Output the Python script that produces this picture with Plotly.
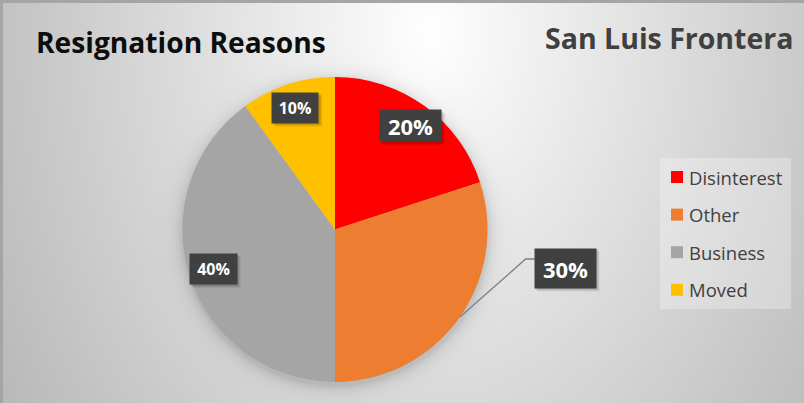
import base64
import math
import struct
import zlib

import numpy as np
import plotly.graph_objects as go

# ---------------- data ----------------
categories = ["Disinterest", "Other", "Business", "Moved"]
values = [20, 30, 40, 10]
colors = ["#FF0000", "#ED7D31", "#A5A5A5", "#FFC000"]
title_left = "Resignation Reasons"
title_right = "San Luis Frontera"

# ---------------- geometry (pixels) ----------------
W, H = 804, 403
CX, CY, R = 335.0, 229.5, 152.5
FONT = "Open Sans"


def px(x):
    return x / W


def py(y):
    return 1 - y / H


# ---------------- background image (gradient + pie shadow) ----------------
yy, xx = np.mgrid[0:H, 0:W].astype(float)
d = np.sqrt(((xx - 430) / 430) ** 2 + ((yy - 30) / 600) ** 2)
g = 255 - 60 * d
s = np.sqrt((xx - CX) ** 2 + (yy - (CY + 3)) ** 2) - R
g -= 32 * np.exp(-np.clip(s, 0, None) / 7)
g[:3, :] = 165
g[:, :3] = 165
g = np.clip(g, 0, 255).astype(np.uint8)


def png_bytes(arr):
    h, w = arr.shape
    raw = b"".join(b"\x00" + arr[i].tobytes() for i in range(h))

    def chunk(t, data):
        c = struct.pack(">I", len(data)) + t + data
        return c + struct.pack(">I", zlib.crc32(t + data) & 0xFFFFFFFF)

    return (b"\x89PNG\r\n\x1a\n" + chunk(b"IHDR", struct.pack(">IIBBBBB", w, h, 8, 0, 0, 0, 0))
            + chunk(b"IDAT", zlib.compress(raw, 9)) + chunk(b"IEND", b""))


bg_src = "data:image/png;base64," + base64.b64encode(png_bytes(g)).decode()

fig = go.Figure()
fig.add_trace(go.Pie(
    labels=categories, values=values, sort=False, direction="clockwise", rotation=0,
    marker=dict(colors=colors, line=dict(width=0)), textinfo="none", hoverinfo="label+percent",
    showlegend=False,
    domain=dict(x=[px(CX - R), px(CX + R)], y=[py(CY + R), py(CY - R)]),
))

annotations = []
shapes = []

# data labels (positions derived from slice angles)
total = sum(values)
label_style = {
    # name: (radius fraction, angle override or None, font size, box w, box h)
    "Disinterest": (0.84, None, 22, 61, 31),
    "Other": (1.53, 99.5, 22, 61, 39),
    "Business": (0.84, None, 16, 47, 30),
    "Moved": (0.84, None, 16, 46, 30),
}
cum = 0
for cat, v in zip(categories, values):
    mid = 360 * (cum + v / 2) / total
    cum += v
    rf, ang, fs, bw, bh = label_style[cat]
    a = math.radians(mid if ang is None else ang)
    lx = CX + rf * R * math.sin(a)
    ly = CY - rf * R * math.cos(a)
    # soft shadow
    for k, op in [(4, 0.06), (3, 0.08), (2, 0.1)]:
        shapes.append(dict(type="rect", xref="paper", yref="paper",
                           x0=px(lx - bw / 2 + k - 1), x1=px(lx + bw / 2 + k),
                           y0=py(ly + bh / 2 + k), y1=py(ly - bh / 2 + k - 1),
                           fillcolor=f"rgba(0,0,0,{op})", line=dict(width=0), layer="above"))
    annotations.append(dict(
        x=px(lx), y=py(ly), xref="paper", yref="paper", showarrow=False,
        text=f"<b>{round(100 * v / total)}%</b>", font=dict(family=FONT, size=fs, color="white"),
        bgcolor="#404040", width=bw, height=bh, borderpad=0, xanchor="center", yanchor="middle",
    ))
    if ang is not None:
        ea = math.radians(125)
        ex, ey = CX + R * math.sin(ea), CY - R * math.cos(ea)
        bx, by = lx - bw / 2, ly - 9
        shapes.append(dict(type="path", xref="paper", yref="paper",
                           path=f"M {px(ex)} {py(ey)} L {px(bx - 9)} {py(by)} L {px(bx)} {py(by)}",
                           line=dict(color="#7F7F7F", width=1.3)))

# legend (manual, to match the spacing)
LX0, LY0, LX1, LY1 = 660, 158, 791, 309
shapes.append(dict(type="rect", xref="paper", yref="paper", x0=px(LX0), x1=px(LX1), y0=py(LY1), y1=py(LY0),
                   fillcolor="rgba(255,255,255,0.28)", line=dict(width=0), layer="below"))
for i, (cat, col) in enumerate(zip(categories, colors)):
    yc = 177 + i * 37.6
    shapes.append(dict(type="rect", xref="paper", yref="paper", x0=px(671), x1=px(683),
                       y0=py(yc + 6), y1=py(yc - 6), fillcolor=col, line=dict(width=0)))
    annotations.append(dict(x=px(687), y=py(yc), xref="paper", yref="paper", showarrow=False,
                            text=cat, font=dict(family=FONT, size=18.5, color="#404040"),
                            xanchor="left", yanchor="middle"))

# titles
annotations.append(dict(x=px(34), y=py(42), xref="paper", yref="paper", showarrow=False,
                        text=f"<b>{title_left}</b>", font=dict(family=FONT, size=28.2, color="#0D0D0D"),
                        xanchor="left", yanchor="middle"))
annotations.append(dict(x=px(795), y=py(38), xref="paper", yref="paper", showarrow=False,
                        text=f"<b>{title_right}</b>", font=dict(family=FONT, size=28.5, color="#404040"),
                        xanchor="right", yanchor="middle"))

fig.update_layout(
    width=W, height=H, margin=dict(l=0, r=0, t=0, b=0),
    paper_bgcolor="#D9D9D9", plot_bgcolor="rgba(0,0,0,0)",
    images=[dict(source=bg_src, xref="paper", yref="paper", x=0, y=1, sizex=1, sizey=1,
                 sizing="stretch", xanchor="left", yanchor="top", layer="below")],
    shapes=shapes, annotations=annotations, showlegend=False,
)
fig.write_html("out.html", config={"displayModeBar": False},
               post_script="document.body.style.margin='0px';")
